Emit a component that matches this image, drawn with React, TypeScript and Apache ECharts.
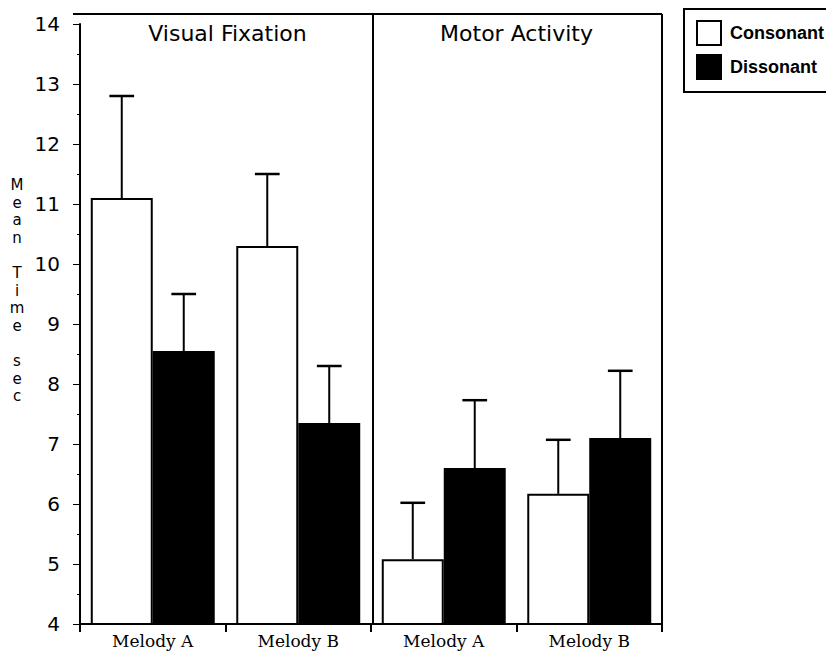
import React, { useEffect, useRef } from "react";
import * as echarts from "echarts";

const categories = ["Melody A", "Melody B", "Melody A", "Melody B"];
const panelTitles = ["Visual Fixation", "Motor Activity"];
const consonant = [11.1, 10.3, 5.08, 6.17];
const consonantUpper = [12.8, 11.5, 6.02, 7.07];
const dissonant = [8.55, 7.35, 6.6, 7.1];
const dissonantUpper = [9.5, 8.3, 7.73, 8.22];
const yName = ["M", "e", "a", "n", "", "T", "i", "m", "e", "", "s", "e", "c"];
const yMin = 4;
const yMax = 14;

export default function App() {
  const ref = useRef<HTMLDivElement>(null);
  useEffect(() => {
    if (!ref.current) return;
    const chart = echarts.init(ref.current, null, { renderer: "svg" });
    const barFrac = 0.426;
    const errRender = (params: any, api: any) => {
      const idx = api.value(0);
      const val = api.value(1);
      const top = api.value(2);
      const side = api.value(3);
      const base = api.coord([idx, val]);
      const hi = api.coord([idx, top]);
      const band = api.size([1, 0])[0];
      const x = base[0] + side * band * barFrac * 0.5;
      const cap = band * 0.085;
      return {
        type: "group",
        children: [
          { type: "line", shape: { x1: x, y1: base[1], x2: x, y2: hi[1] }, style: { stroke: "#000", lineWidth: 2 } },
          { type: "line", shape: { x1: x - cap, y1: hi[1], x2: x + cap, y2: hi[1] }, style: { stroke: "#000", lineWidth: 2.5 } },
        ],
      };
    };
    chart.setOption({
      animation: false,
      backgroundColor: "#fff",
      grid: { left: 80, right: 164, top: 24, bottom: 28 },
      legend: {
        data: [
          { name: "Consonant", icon: "rect" },
          { name: "Dissonant", icon: "rect" },
        ],
        orient: "vertical",
        left: 684,
        top: 9,
        padding: [11, 20, 12, 12],
        itemWidth: 24,
        itemHeight: 24,
        itemGap: 8,
        borderColor: "#000",
        borderWidth: 2,
        selectedMode: false,
        textStyle: { fontFamily: "Liberation Sans", fontWeight: "bold", fontSize: 18, color: "#000", padding: [0, 0, 0, 4] },
      },
      xAxis: {
        type: "category",
        data: categories,
        axisLine: { lineStyle: { color: "#000", width: 2 } },
        axisTick: { show: true, interval: 0, length: 8, lineStyle: { color: "#000", width: 2 } },
        axisLabel: { interval: 0, fontFamily: "DejaVu Serif", fontSize: 17, color: "#000", margin: 8 },
      },
      yAxis: {
        type: "value",
        min: yMin,
        max: yMax,
        interval: 1,
        axisLine: { show: true, lineStyle: { color: "#000", width: 2 } },
        axisTick: { show: true, length: 7, lineStyle: { color: "#000", width: 1 } },
        minorTick: { show: true, splitNumber: 2, length: 3, lineStyle: { color: "#000", width: 1 } },
        splitLine: { show: false },
        axisLabel: { fontFamily: "DejaVu Sans", fontSize: 20, color: "#000", margin: 20 },
      },
      series: [
        {
          name: "Consonant",
          type: "bar",
          data: consonant,
          barWidth: (barFrac * 100).toFixed(1) + "%",
          barGap: "0%",
          itemStyle: { color: "#fff", borderColor: "#000", borderWidth: 2 },
        },
        {
          name: "Dissonant",
          type: "bar",
          data: dissonant,
          barWidth: (barFrac * 100).toFixed(1) + "%",
          barGap: "0%",
          itemStyle: { color: "#000", borderColor: "#000", borderWidth: 2 },
        },
        {
          name: "errC",
          type: "custom",
          renderItem: errRender,
          data: consonant.map((v, i) => [i, v, consonantUpper[i], -1]),
          z: 5,
        },
        {
          name: "errD",
          type: "custom",
          renderItem: errRender,
          data: dissonant.map((v, i) => [i, v, dissonantUpper[i], 1]),
          z: 5,
        },
      ],
    });

    const c1 = chart.convertToPixel({ xAxisIndex: 0 }, 1) as number;
    const c2 = chart.convertToPixel({ xAxisIndex: 0 }, 2) as number;
    const c3 = chart.convertToPixel({ xAxisIndex: 0 }, 3) as number;
    const c0 = chart.convertToPixel({ xAxisIndex: 0 }, 0) as number;
    const band = c1 - c0;
    const leftX = c0 - band / 2;
    const midX = (c1 + c2) / 2;
    const rightX = c3 + band / 2;
    const yTop = (chart.convertToPixel({ yAxisIndex: 0 }, yMax) as number) - 10;
    const yBot = chart.convertToPixel({ yAxisIndex: 0 }, yMin) as number;
    const titleY = yTop + 19.5;

    const letterItems = yName
      .map((ch, i) => ({ ch, i }))
      .filter((o) => o.ch !== "")
      .map((o) => ({
        type: "text",
        x: 17,
        y: 185 + o.i * 17.6,
        style: {
          text: o.ch,
          fontFamily: "DejaVu Sans",
          fontSize: 15,
          fill: "#000",
          align: "center",
          verticalAlign: "middle",
        },
      }));

    chart.setOption({
      graphic: [
        { type: "line", shape: { x1: leftX - 7, y1: yTop, x2: rightX, y2: yTop }, style: { stroke: "#000", lineWidth: 2 } },
        { type: "line", shape: { x1: midX + 2, y1: yTop, x2: midX + 2, y2: yBot }, style: { stroke: "#000", lineWidth: 2 } },
        { type: "line", shape: { x1: rightX, y1: yTop, x2: rightX, y2: yBot }, style: { stroke: "#000", lineWidth: 2 } },
        {
          type: "text",
          x: (leftX + midX) / 2 + 2,
          y: titleY,
          style: { text: panelTitles[0], fontFamily: "DejaVu Sans", fontSize: 22, fill: "#000", align: "center", verticalAlign: "middle" },
        },
        {
          type: "text",
          x: (midX + rightX) / 2,
          y: titleY,
          style: { text: panelTitles[1], fontFamily: "DejaVu Sans", fontSize: 22, fill: "#000", align: "center", verticalAlign: "middle" },
        },
        ...letterItems,
      ],
    });
    return () => chart.dispose();
  }, []);
  return <div ref={ref} style={{ position: "fixed", left: 0, top: 0, width: 826, height: 652, background: "#fff" }} />;
}
